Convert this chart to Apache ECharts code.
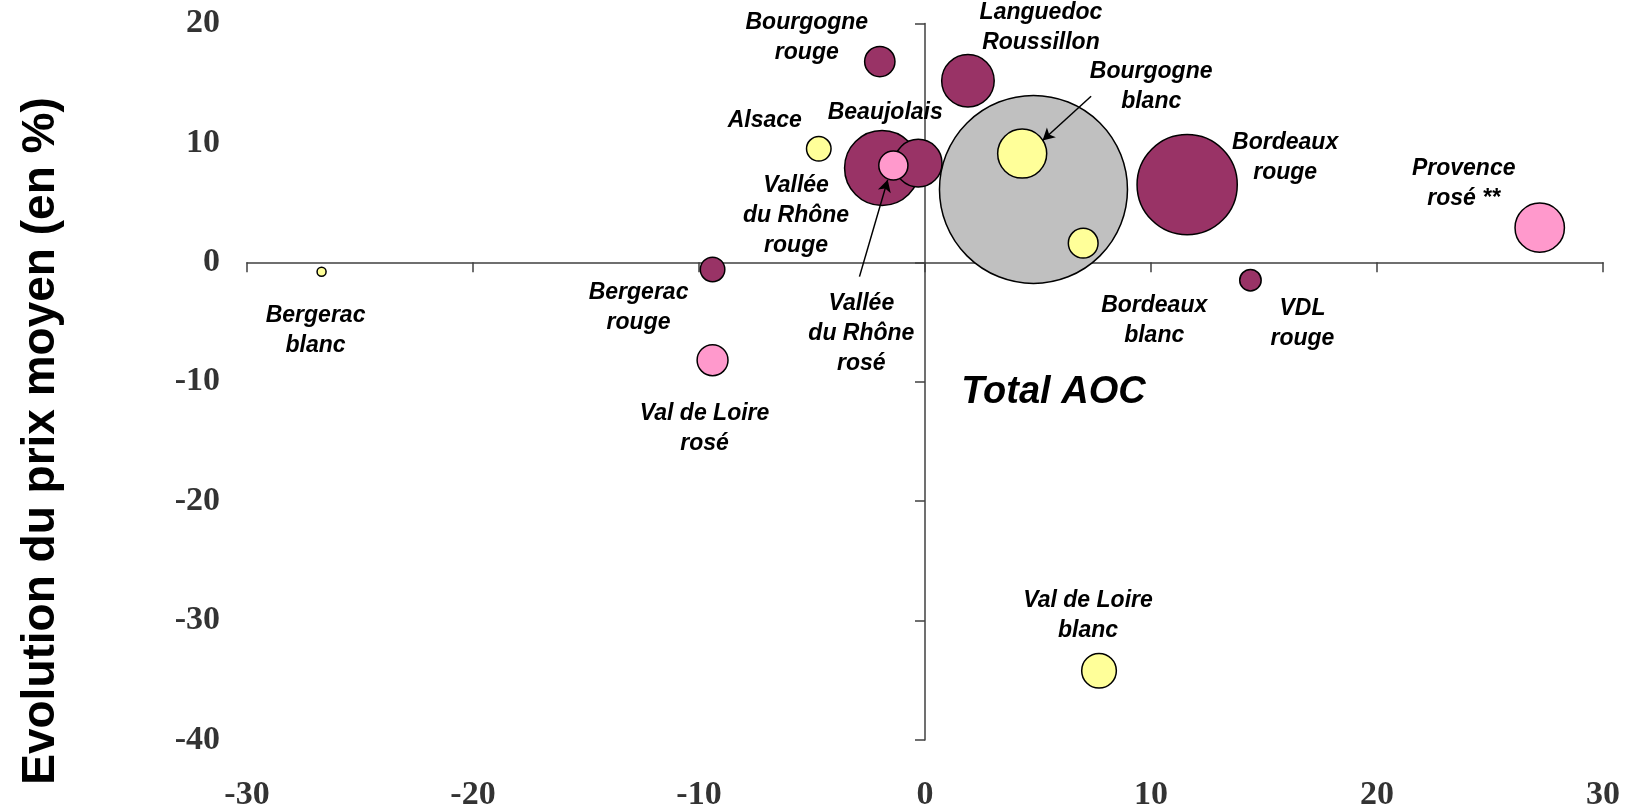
<!DOCTYPE html>
<html>
<head>
<meta charset="utf-8">
<title>Evolution du prix moyen</title>
<script src="https://cdn.jsdelivr.net/npm/echarts@6/dist/echarts.min.js"></script>
<style>
  html, body { margin: 0; padding: 0; background: #fff; }
  #chart { width: 1632px; height: 812px; }
</style>
</head>
<body>
<div id="chart"></div>
<script>
// appellations (bubble labels)
const names = [
  "Total AOC",
  "Vallée\ndu Rhône\nrouge", "Beaujolais", "Bourgogne\nrouge", "Languedoc\nRoussillon",
  "Bordeaux\nrouge", "Bergerac\nrouge", "VDL\nrouge",
  "Bergerac\nblanc", "Alsace", "Bourgogne\nblanc", "Bordeaux\nblanc", "Val de Loire\nblanc",
  "Vallée\ndu Rhône\nrosé", "Val de Loire\nrosé", "Provence\nrosé **"
];
const groups = [
  "total",
  "rouge", "rouge", "rouge", "rouge", "rouge", "rouge", "rouge",
  "blanc", "blanc", "blanc", "blanc", "blanc",
  "rose", "rose", "rose"
];
// x : evolution volumes (%), y : evolution du prix moyen (%), size : poids
const xValues = [4.8, -1.9, -0.3, -2.0, 1.9, 11.6, -9.4, 14.4, -26.7, -4.7, 4.3, 7.0, 7.7, -1.4, -9.4, 27.2];
const yValues = [6.1, 7.9, 8.3, 16.8, 15.2, 6.5, -0.6, -1.5, -0.8, 9.5, 9.1, 1.6, -34.2, 8.1, -8.2, 2.9];
const sizes = [100, 15.9, 6.4, 2.6, 7.8, 28.4, 1.7, 1.3, 0.23, 1.7, 6.8, 2.5, 3.4, 2.4, 2.7, 6.9];

const xTicks = { min: -30, max: 30, interval: 10 };
const yTicks = { min: -40, max: 20, interval: 10 };

// arrows pointing to the bubbles (from -> to, in data units)
const arrows = [
  [[7.35, 13.9], [5.2, 10.2]],
  [[-2.9, -1.2], [-1.65, 6.9]]
];

// label offsets from bubble centre, px
const labelOffsets = {
  "Total AOC": [20, 203],
  "Vallée\ndu Rhône\nrouge": [-86, 48],
  "Beaujolais": [-33, -50],
  "Bourgogne\nrouge": [-73, -24],
  "Languedoc\nRoussillon": [73, -53],
  "Bordeaux\nrouge": [98, -27],
  "Bergerac\nrouge": [-74, 38],
  "VDL\nrouge": [52, 43],
  "Bergerac\nblanc": [-6, 59],
  "Alsace": [-54, -28],
  "Bourgogne\nblanc": [129, -67],
  "Bordeaux\nblanc": [71, 77],
  "Val de Loire\nblanc": [-11, -55],
  "Vallée\ndu Rhône\nrosé": [-32, 168],
  "Val de Loire\nrosé": [-8, 68],
  "Provence\nrosé **": [-76, -44]
};

const colors = {
  total: "#C0C0C0",
  rouge: "#993366",
  blanc: "#FFFF99",
  rose: "#FF99CC"
};

const sizeFactor = 18.8;
const labelFont = '"Liberation Sans", Arial, sans-serif';
const tickFont = '"Liberation Serif", "Times New Roman", serif';

function getSeries() {
  const series = [];
  ["total", "rouge", "blanc", "rose"].forEach((g) => {
    const data = [];
    names.forEach((n, i) => {
      if (groups[i] !== g) return;
      const isTotal = g === "total";
      data.push({
        name: n,
        value: [xValues[i], yValues[i], sizes[i]],
        label: {
          offset: labelOffsets[n],
          fontSize: isTotal ? 38 : 23,
          lineHeight: isTotal ? 44 : 30
        }
      });
    });
    series.push({
      name: g,
      type: "scatter",
      xAxisIndex: 0,
      yAxisIndex: 0,
      symbol: "circle",
      symbolSize: function (val) {
        return sizeFactor * Math.sqrt(val[2]);
      },
      itemStyle: {
        color: colors[g],
        borderColor: "#000",
        borderWidth: 1.5,
        opacity: 1
      },
      label: {
        show: true,
        position: "inside",
        formatter: "{b}",
        color: "#000",
        fontFamily: labelFont,
        fontStyle: "italic",
        fontWeight: "bold",
        align: "center",
        verticalAlign: "middle"
      },
      emphasis: { disabled: true },
      data: data
    });
  });
  // arrows
  series.push({
    type: "scatter",
    xAxisIndex: 0,
    yAxisIndex: 0,
    data: [],
    markLine: {
      silent: true,
      symbol: ["none", "arrow"],
      symbolSize: [10, 12],
      label: { show: false },
      lineStyle: { color: "#000", width: 1.5, type: "solid" },
      emphasis: { disabled: true },
      data: arrows.map((a) => [{ coord: a[0] }, { coord: a[1] }])
    }
  });
  return series;
}

const myChart = echarts.init(document.getElementById("chart"), null, { renderer: "canvas" });

const gridBox = { top: 23.4, bottom: 72, left: 247, right: 29 };

const option = {
  backgroundColor: "#fff",
  animation: false,
  grid: [
    Object.assign({ containLabel: false }, gridBox),
    Object.assign({ containLabel: false }, gridBox)
  ],
  xAxis: [
    {
      type: "value",
      gridIndex: 0,
      min: xTicks.min,
      max: xTicks.max,
      interval: xTicks.interval,
      axisLine: { show: true, onZero: true, lineStyle: { color: "#404040", width: 1.5 } },
      axisTick: { show: true, length: 10, lineStyle: { color: "#404040", width: 1.5 } },
      axisLabel: { show: false },
      splitLine: { show: false }
    },
    {
      type: "value",
      gridIndex: 1,
      min: xTicks.min,
      max: xTicks.max,
      interval: xTicks.interval,
      axisLine: { show: false },
      axisTick: { show: false },
      splitLine: { show: false },
      axisLabel: {
        margin: 38,
        color: "#333",
        fontFamily: tickFont,
        fontWeight: "bold",
        fontSize: 34
      }
    }
  ],
  yAxis: [
    {
      type: "value",
      gridIndex: 0,
      min: yTicks.min,
      max: yTicks.max,
      interval: yTicks.interval,
      axisLine: { show: true, onZero: true, lineStyle: { color: "#404040", width: 1.5 } },
      axisTick: { show: true, length: 10, lineStyle: { color: "#404040", width: 1.5 } },
      axisLabel: { show: false },
      splitLine: { show: false }
    },
    {
      type: "value",
      gridIndex: 1,
      min: yTicks.min,
      max: yTicks.max,
      interval: yTicks.interval,
      axisLine: { show: false },
      axisTick: { show: false },
      splitLine: { show: false },
      axisLabel: {
        margin: 27,
        color: "#333",
        fontFamily: tickFont,
        fontWeight: "bold",
        fontSize: 34
      }
    }
  ],
  graphic: [
    {
      type: "text",
      x: 41,
      y: 441,
      rotation: Math.PI / 2,
      style: {
        text: "Evolution du prix moyen (en %)",
        fill: "#000",
        font: 'bold 46px "Liberation Sans", Arial, sans-serif',
        textAlign: "center",
        textVerticalAlign: "middle"
      }
    }
  ],
  series: getSeries()
};

myChart.setOption(option);
window.addEventListener("resize", () => {
  myChart.resize();
});
</script>
</body>
</html>
